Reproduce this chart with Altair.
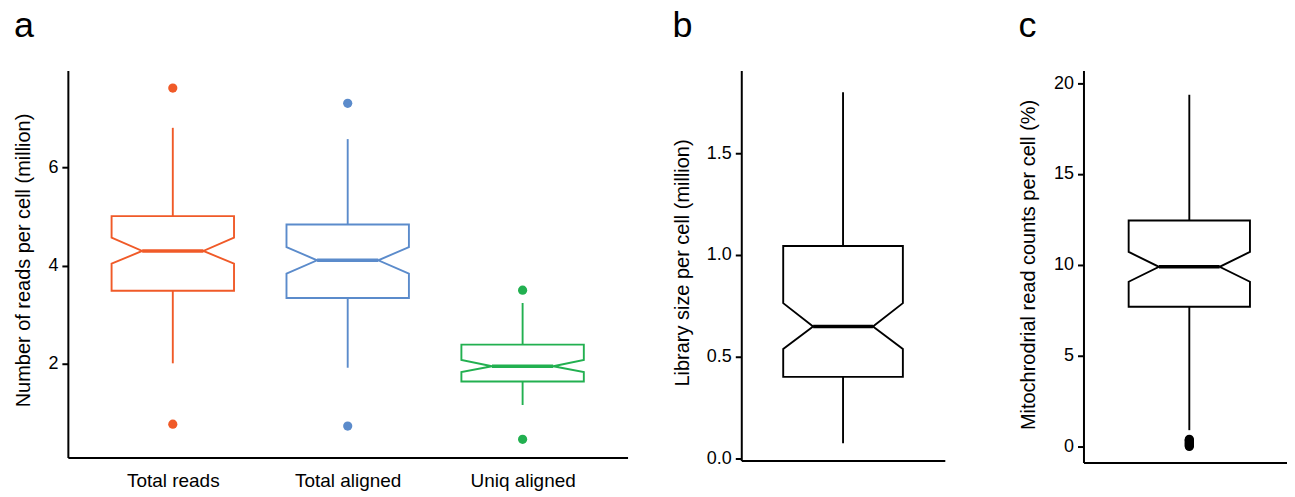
import json
import altair as alt
import pandas as pd

FONT = "Liberation Sans"

# ---------------- data ----------------
# panel a: reads per cell (million)
categories = ["Total reads", "Total aligned", "Uniq aligned"]
colors = ["#F05A28", "#5B8BCB", "#22B050"]
q1 = [3.49, 3.34, 1.64]
median = [4.30, 4.11, 1.95]
q3 = [5.01, 4.84, 2.39]
notch_lo = [4.04, 3.84, 1.83]
notch_hi = [4.57, 4.38, 2.08]
whisker_lo = [2.01, 1.92, 1.16]
whisker_hi = [6.81, 6.58, 3.24]
outliers = [[7.62, 0.77], [7.31, 0.73], [3.50, 0.46]]

# panel b: library size per cell (million)
lib_q1 = 0.400
lib_median = 0.648
lib_q3 = 1.044
lib_notch_lo = 0.537
lib_notch_hi = 0.763
lib_whisker_lo = 0.073
lib_whisker_hi = 1.802
lib_outliers = []

# panel c: mitochondrial read counts per cell (%)
mito_q1 = 7.69
mito_median = 9.89
mito_q3 = 12.44
mito_notch_lo = 9.07
mito_notch_hi = 10.71
mito_whisker_lo = 0.9
mito_whisker_hi = 19.36
mito_outliers = [0.0, 0.05, 0.1, 0.15, 0.2, 0.25, 0.3, 0.35, 0.4]


def build_tables(groups, xs, halfw, s_q1, s_med, s_q3, s_nlo, s_nhi, s_wlo, s_whi, s_out):
    poly, stat, pts = [], [], []
    for g, x, a, m, b, nl, nh, wl, wh, outs in zip(groups, xs, s_q1, s_med, s_q3, s_nlo, s_nhi, s_wlo, s_whi, s_out):
        w = halfw
        verts = [(x - w, a), (x - w, nl), (x - w / 2, m), (x - w, nh), (x - w, b),
                 (x + w, b), (x + w, nh), (x + w / 2, m), (x + w, nl), (x + w, a), (x - w, a)]
        for i, (vx, vy) in enumerate(verts):
            poly.append(dict(group=g, order=i, x=vx, y=vy))
        stat.append(dict(group=g, x=x, xl=x - w / 2, xr=x + w / 2, q1=a, med=m, q3=b, wlo=wl, whi=wh))
        for o in outs:
            pts.append(dict(group=g, x=x, y=o))
    return pd.DataFrame(poly), pd.DataFrame(stat), pd.DataFrame(pts, columns=["group", "x", "y"])


def panel(groups, xs, halfw, stats, outs, color, ydomain, yticks, yfmt, ytitle,
          xdomain, xaxis, width, height, title, title_pad, title_y):
    poly, stat, pts = build_tables(groups, xs, halfw, *stats, outs)
    xscale = alt.Scale(domain=xdomain, nice=False, zero=False)
    yscale = alt.Scale(domain=ydomain, nice=False, zero=False)
    yaxis = alt.Axis(values=yticks, format=yfmt, title=ytitle, grid=False, tickSize=6,
                     labelPadding=4, titlePadding=title_pad, titleY=title_y)

    box = alt.Chart(poly).mark_line(strokeWidth=1.9, strokeJoin="miter", strokeCap="square").encode(
        x=alt.X("x:Q", scale=xscale, axis=xaxis),
        y=alt.Y("y:Q", scale=yscale, axis=yaxis),
        order="order:Q",
        detail="group:N",
        color=color,
    )
    whis_hi = alt.Chart(stat).mark_rule(strokeWidth=1.9).encode(
        x="x:Q", y="q3:Q", y2="whi:Q", color=color)
    whis_lo = alt.Chart(stat).mark_rule(strokeWidth=1.9).encode(
        x="x:Q", y="wlo:Q", y2="q1:Q", color=color)
    med = alt.Chart(stat).mark_rule(strokeWidth=3.5).encode(
        x="xl:Q", x2="xr:Q", y="med:Q", color=color)
    layers = [whis_hi, whis_lo, box, med]
    if len(pts):
        dots = alt.Chart(pts).mark_circle(size=85, opacity=1).encode(
            x="x:Q", y="y:Q", color=color)
        layers.append(dots)
    return alt.layer(*layers).properties(
        width=width, height=height,
        title=alt.TitleParams(title, anchor="start", fontSize=36, fontWeight="normal",
                              font=FONT, color="black", offset=25),
    )


label_expr = json.dumps(categories) + "[datum.value - 1]"
xaxis_a = alt.Axis(values=[1, 2, 3], labelExpr=label_expr, ticks=False, grid=False, title=None,
                   labelPadding=14, labelFontSize=19)
xaxis_plain = alt.Axis(labels=False, ticks=False, grid=False, title=None)

color_a = alt.Color("group:N", scale=alt.Scale(domain=categories, range=colors), legend=None)
black = alt.value("black")

pa = panel(categories, [1, 2, 3], 0.35,
           (q1, median, q3, notch_lo, notch_hi, whisker_lo, whisker_hi), outliers,
           color_a, [0.09, 7.98], [2, 4, 6], "d",
           "Number of reads per cell (million)", [0.4, 3.6], xaxis_a,
           561, 388, "a", 14, 190)

pb = panel(["lib"], [0.5], 0.294,
           ([lib_q1], [lib_median], [lib_q3], [lib_notch_lo], [lib_notch_hi], [lib_whisker_lo], [lib_whisker_hi]),
           [lib_outliers], black, [-0.012, 1.909], [0, 0.5, 1, 1.5], ".1f",
           "Library size per cell (million)", [0, 1], xaxis_plain,
           204, 391, "b", 14, 192.5)

pc = panel(["mito"], [0.5], 0.298,
           ([mito_q1], [mito_median], [mito_q3], [mito_notch_lo], [mito_notch_hi], [mito_whisker_lo], [mito_whisker_hi]),
           [mito_outliers], black, [-0.88, 20.70], [0, 5, 10, 15, 20], "d",
           "Mitochrodrial read counts per cell (%)", [-0.02, 0.98], xaxis_plain,
           204, 393, "c", 15, 194.5)

chart = alt.hconcat(pa, alt.hconcat(pb, pc, spacing=73), spacing=44).properties(
    padding={"left": 5, "top": 0, "right": 0, "bottom": 0}
).configure_view(stroke=None).configure_axis(
    labelFont=FONT, titleFont=FONT, labelFontSize=18, titleFontSize=20,
    titleFontWeight="normal", labelColor="black", titleColor="black",
    domainColor="black", tickColor="black", domainWidth=2, tickWidth=2,
)

chart.save("out.html", embed_options={"renderer": "svg", "actions": False})
